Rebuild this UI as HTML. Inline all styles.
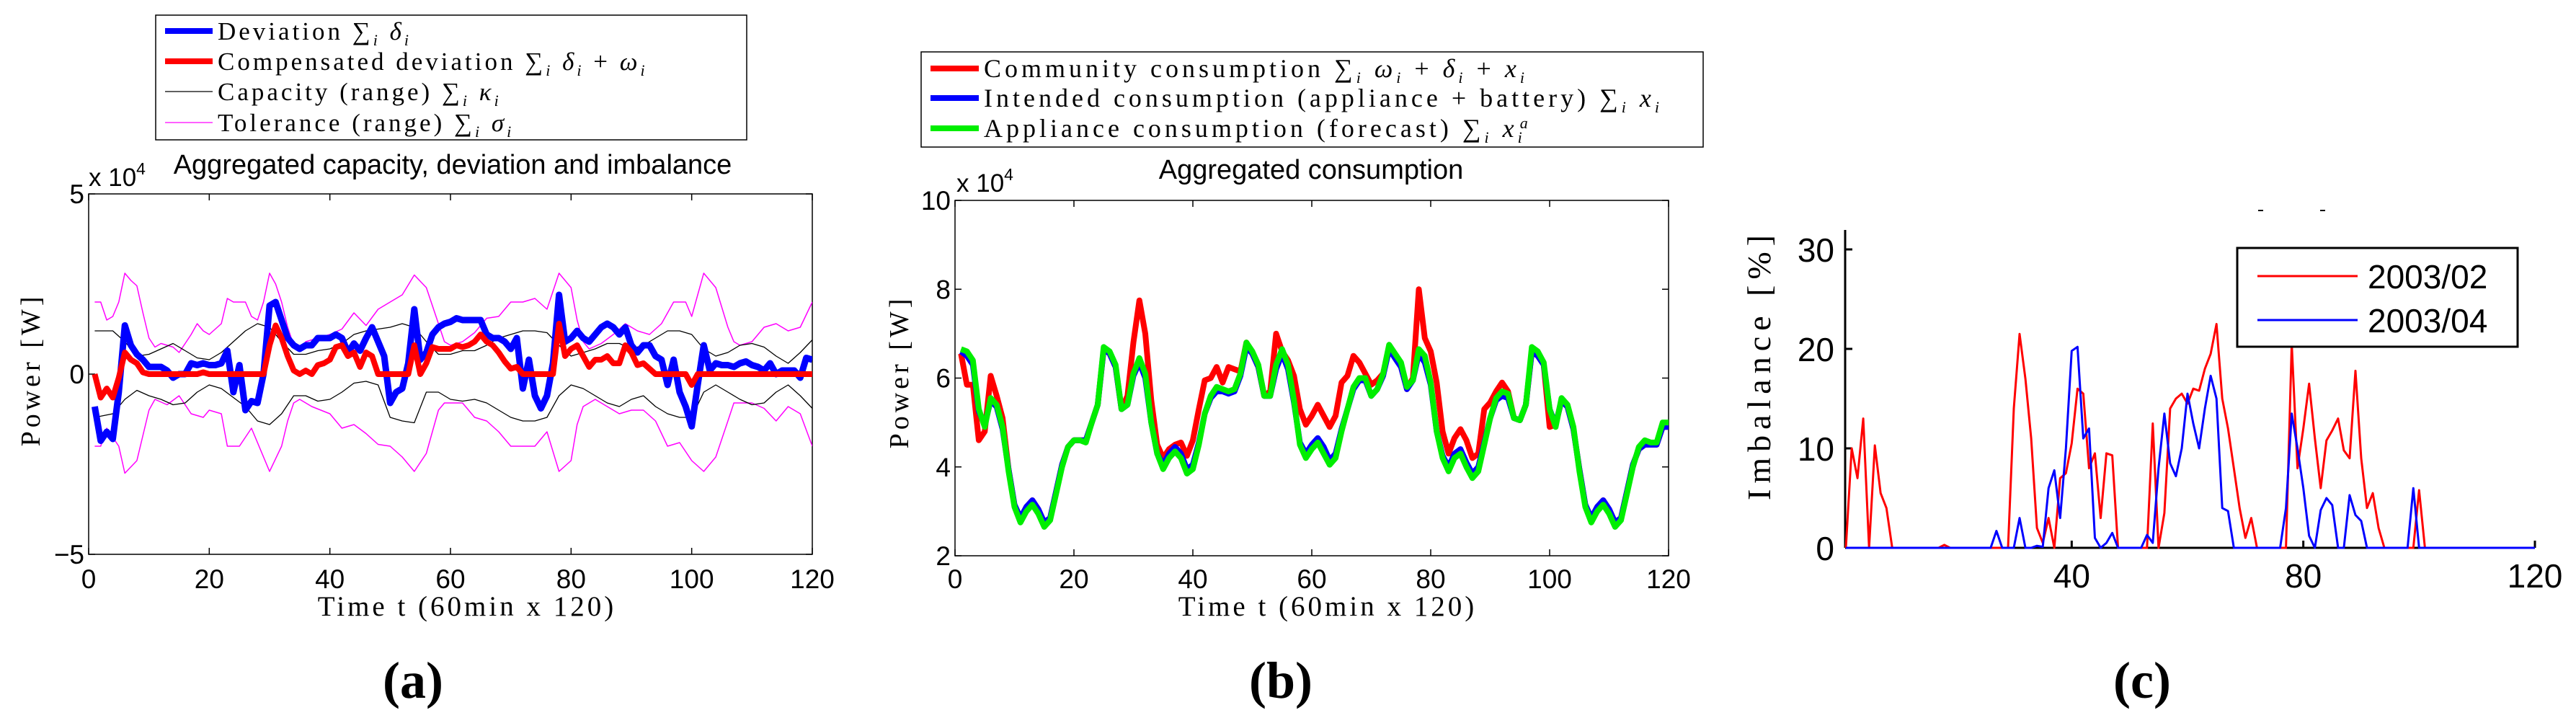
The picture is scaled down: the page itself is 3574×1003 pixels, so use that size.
<!DOCTYPE html>
<html><head><meta charset="utf-8"><style>
html,body{margin:0;padding:0;background:#fff}
svg{display:block}
.sans{font-family:"Liberation Sans",sans-serif}
.serif{font-family:"Liberation Serif",serif}
</style></head><body>
<svg id="fig" width="3574" height="1003" viewBox="0 0 3574 1003" xmlns="http://www.w3.org/2000/svg">
<g id="pa"></g>
<g id="pb"></g>
<g id="pc"></g>
</svg>
<script>
// ---------- Panel (a) data (units of 1e4 W) ----------
const aDevT=[1,2,3,4,5,6,7,8,9,10,11,12,13,14,15,16,17,18,19,20,21,22,23,24,25,26,27,28,29,30,31,32,33,34,35,36,37,38,39,40,41,42,43,44,45,46,47,48,49,50,51,52,53,54,55,56,57,58,59,60,61,62,63,64,65,66,67,68,69,70,71,72,73,74,75,76,77,78,79,80,81,82,83,84,85,86,87,88,89,90,91,92,93,94,95,96,97,98,99,100,101,102,103,104,105,106,107,108,109,110,111,112,113,114,115,116,117,118,119,120];
const aDeviation=[-0.9,-1.85,-1.6,-1.8,-0.5,1.35,0.8,0.55,0.4,0.2,0.2,0.2,0.1,-0.1,0.0,0.0,0.3,0.25,0.3,0.25,0.25,0.3,0.65,-0.5,0.25,-1.0,-0.75,-0.8,0.0,1.9,2.0,1.5,1.0,0.8,0.7,0.8,0.8,1.0,1.0,1.0,1.1,1.0,0.6,0.85,0.65,1.0,1.3,0.9,0.5,-0.8,-0.5,-0.4,0.3,1.8,0.4,0.6,1.1,1.3,1.4,1.45,1.55,1.5,1.5,1.5,1.5,1.1,1.0,1.0,0.9,0.7,1.0,-0.4,0.4,-0.6,-0.95,-0.6,0.3,2.2,0.9,1.0,1.2,1.0,0.9,1.1,1.3,1.4,1.3,1.1,1.3,0.8,0.6,0.8,0.8,0.5,0.4,-0.3,0.4,-0.5,-0.9,-1.45,-0.3,0.8,0.1,0.3,0.25,0.25,0.2,0.3,0.35,0.25,0.2,0.1,0.3,0.0,0.1,0.1,0.1,-0.1,0.45,0.4];
const aCompensated=[0,-0.65,-0.4,-0.65,-0.1,0.6,0.4,0.3,0.05,0,0,0,0,0,0,0,0,0,0.05,0,0,0,0,0,0,0,0,0,0,0.8,1.35,1.0,0.5,0.1,0.0,0.1,0.0,0.25,0.3,0.4,0.75,0.8,0.5,0.6,0.2,0.6,0.5,0,0,0,0,0,0,0.8,0.0,0.3,0.75,0.7,0.7,0.7,0.8,0.75,0.8,0.9,1.1,0.9,0.8,0.6,0.35,0.15,0.2,0,0,0,0,0,0,1.4,0.5,0.7,0.8,0.5,0.2,0.4,0.4,0.5,0.3,0.3,0.8,0.6,0.25,0.3,0.15,0,0,0,0,0,0,-0.3,0,0,0,0,0,0,0,0,0,0,0,0,0,0,0,0,0,0,0,0];
const aCapT=[1,4,6,8,10,12,14,16,18,20,22,24,26,28,30,32,34,36,38,40,42,44,46,48,50,52,54,56,58,60,62,64,66,68,70,72,74,76,78,80,82,84,86,88,90,92,94,96,98,100,102,104,106,108,110,112,114,116,118,120];
const aCapUpper=[1.2,1.2,0.9,0.5,0.55,0.7,0.85,0.65,0.45,0.4,0.6,0.9,1.2,1.4,1.3,0.9,0.55,0.55,0.65,0.7,0.85,1.1,1.2,1.25,1.3,1.4,1.3,0.9,0.55,0.55,0.65,0.65,0.8,1.0,1.1,1.2,1.2,1.15,0.8,0.5,0.6,0.7,0.85,0.85,0.7,0.8,1.0,1.2,1.2,1.1,0.7,0.5,0.6,0.8,0.85,0.75,0.5,0.3,0.6,0.95];
const aCapLower=[-1.2,-1.1,-0.7,-0.45,-0.6,-0.7,-0.85,-0.8,-0.5,-0.3,-0.4,-0.65,-0.9,-1.3,-1.4,-1.1,-0.6,-0.6,-0.75,-0.7,-0.5,-0.25,-0.2,-0.3,-1.2,-1.3,-1.35,-0.5,-0.5,-0.7,-0.75,-0.7,-0.8,-1.0,-1.2,-1.3,-1.3,-1.2,-0.6,-0.3,-0.4,-0.6,-0.8,-0.9,-0.7,-0.6,-0.9,-1.1,-1.2,-1.2,-0.5,-0.3,-0.5,-0.7,-0.85,-0.8,-0.5,-0.3,-0.6,-0.95];
const aTolUT=[1,2,3,4,5,6,7,8,9,10,11,12,13,14,15,16,17,18,19,20,22,23,24,25,26,27,28,29,30,31,32,33,34,35,36,38,40,42,44,46,48,50,52,54,56,58,59,60,62,64,66,68,70,72,74,76,78,80,81,82,83,85,87,89,91,93,95,97,99,100,101,102,104,106,107,108,110,112,114,116,118,120];
const aTolUpper=[2.0,2.0,1.5,1.6,2.0,2.8,2.6,2.45,1.7,1.0,0.75,0.85,0.8,0.75,0.6,0.85,1.1,1.4,1.2,1.1,1.4,2.1,2.0,2.0,2.0,1.6,1.5,2.0,2.8,2.5,2.0,1.3,0.8,0.7,0.9,1.0,1.1,1.25,1.7,1.35,1.8,2.0,2.2,2.75,2.4,1.4,0.9,0.8,0.9,1.15,1.55,1.6,2.0,2.0,2.1,1.8,2.8,2.4,1.5,0.9,0.7,0.85,1.1,1.4,1.2,1.1,1.4,2.0,2.0,1.6,2.2,2.8,2.4,1.3,0.9,0.8,0.9,1.3,1.4,1.2,1.3,2.0];
const aTolLT=[1,2,3,5,6,8,9,10,11,13,15,17,19,20,22,23,25,27,30,32,33,34,35,37,40,42,44,46,48,50,52,54,56,58,59,62,64,66,68,70,72,74,76,78,80,81,82,84,86,88,90,92,94,96,98,100,102,104,106,107,110,112,114,116,118,120];
const aTolLower=[-2.0,-2.0,-1.5,-2.0,-2.75,-2.4,-1.7,-1.0,-0.7,-0.85,-0.6,-1.1,-1.2,-1.0,-1.1,-2.0,-2.0,-1.5,-2.7,-2.0,-1.3,-0.8,-0.7,-0.9,-1.1,-1.5,-1.4,-1.65,-1.95,-2.0,-2.3,-2.7,-2.2,-1.0,-0.8,-0.8,-1.2,-1.3,-1.6,-2.0,-2.0,-2.0,-1.6,-2.7,-2.4,-1.4,-0.9,-0.7,-0.9,-1.1,-1.0,-1.0,-1.3,-2.0,-1.9,-2.4,-2.7,-2.3,-1.3,-0.8,-0.8,-0.95,-1.3,-0.9,-1.1,-2.0];
const aXTicks=[0,20,40,60,80,100,120];
const aYTicks=[-5,0,5];
const aYTickLabels=["\u22125","0","5"];

// ---------- Panel (b) data (units of 1e4 W) ----------
const bT=[1,2,3,4,5,6,7,8,9,10,11,12,13,14,15,16,17,18,19,20,21,22,23,24,25,26,27,28,29,30,31,32,33,34,35,36,37,38,39,40,41,42,43,44,45,46,47,48,49,50,51,52,53,54,55,56,57,58,59,60,61,62,63,64,65,66,67,68,69,70,71,72,73,74,75,76,77,78,79,80,81,82,83,84,85,86,87,88,89,90,91,92,93,94,95,96,97,98,99,100,101,102,103,104,105,106,107,108,109,110,111,112,113,114,115,116,117,118,119,120];
const bAppliance=[6.65,6.6,6.4,5.3,4.9,5.55,5.4,4.9,3.9,3.1,2.75,3.0,3.15,2.95,2.65,2.8,3.4,4.0,4.45,4.6,4.6,4.55,5.0,5.4,6.7,6.6,6.3,5.3,5.4,6.1,6.45,6.1,5.0,4.3,3.95,4.2,4.35,4.2,3.85,3.95,4.5,5.2,5.6,5.8,5.75,5.7,5.75,6.1,6.8,6.6,6.3,5.6,5.6,6.3,6.65,6.3,5.5,4.5,4.2,4.4,4.55,4.3,4.05,4.2,4.8,5.3,5.8,6.0,6.0,5.6,5.75,6.1,6.75,6.55,6.35,5.8,5.95,6.65,6.5,5.9,4.8,4.2,3.9,4.2,4.3,4.0,3.75,3.9,4.5,5.1,5.55,5.7,5.65,5.1,5.05,5.4,6.7,6.6,6.35,5.3,4.9,5.55,5.4,4.9,3.9,3.1,2.75,3.0,3.15,2.95,2.65,2.8,3.4,4.0,4.45,4.6,4.55,4.55,5.0,5.0];
const bIntended=[6.6,6.5,6.3,5.25,4.95,5.5,5.35,4.85,3.95,3.15,2.85,3.1,3.25,3.05,2.75,2.85,3.45,4.05,4.45,4.6,4.6,4.6,5.0,5.4,6.65,6.55,6.25,5.3,5.4,6.05,6.35,6.0,5.0,4.3,4.05,4.3,4.45,4.3,3.95,4.05,4.55,5.2,5.55,5.7,5.7,5.65,5.7,6.05,6.7,6.55,6.25,5.6,5.6,6.2,6.55,6.2,5.45,4.55,4.3,4.5,4.65,4.45,4.15,4.3,4.85,5.3,5.75,5.95,5.95,5.6,5.75,6.05,6.65,6.45,6.25,5.75,5.95,6.55,6.35,5.85,4.8,4.25,4.0,4.3,4.4,4.1,3.85,4.0,4.55,5.1,5.5,5.6,5.55,5.1,5.05,5.4,6.6,6.5,6.3,5.3,4.95,5.5,5.35,4.85,3.95,3.15,2.85,3.1,3.25,3.05,2.75,2.85,3.45,4.05,4.4,4.5,4.5,4.5,4.9,4.9];
const bCommunity=[6.55,5.85,5.85,4.6,4.8,6.05,5.6,5.1,3.95,3.15,2.85,3.1,3.25,3.05,2.75,2.85,3.45,4.05,4.45,4.6,4.6,4.6,5.0,5.4,6.65,6.55,6.25,5.3,5.6,6.8,7.75,7.0,5.5,4.5,4.2,4.4,4.5,4.55,4.25,4.6,5.3,5.95,6.0,6.25,5.9,6.25,6.2,6.15,6.8,6.55,6.25,5.6,5.7,7.0,6.6,6.4,6.05,5.3,4.95,5.15,5.4,5.15,4.9,5.15,5.9,6.05,6.5,6.35,6.1,5.85,5.95,6.1,6.7,6.45,6.25,5.75,6.0,8.0,6.9,6.6,5.9,4.8,4.3,4.65,4.85,4.6,4.2,4.3,5.3,5.45,5.7,5.9,5.7,5.1,5.05,5.4,6.6,6.5,6.3,4.9,4.95,5.5,5.35,4.85,3.95,3.15,2.85,3.1,3.25,3.05,2.75,2.85,3.45,4.05,4.4,4.5,4.5,4.5,4.9,4.9];
const bXTicks=[0,20,40,60,80,100,120];
const bYTicks=[2,4,6,8,10];

// ---------- Panel (c) data (%) ----------
const cT=[1,2,3,4,5,6,7,8,9,10,11,12,13,14,15,16,17,18,19,20,21,22,23,24,25,26,27,28,29,30,31,32,33,34,35,36,37,38,39,40,41,42,43,44,45,46,47,48,49,50,51,52,53,54,55,56,57,58,59,60,61,62,63,64,65,66,67,68,69,70,71,72,73,74,75,76,77,78,79,80,81,82,83,84,85,86,87,88,89,90,91,92,93,94,95,96,97,98,99,100,101,102,103,104,105,106,107,108,109,110,111,112,113,114,115,116,117,118,119,120];
const c200302=[0,10,7,13,0,10.3,5.5,4,0,0,0,0,0,0,0,0,0,0.3,0,0,0,0,0,0,0,0,0,0,0,14,21.5,17,11,2,0.5,3,0,7,7.5,10.5,16,15.5,8,9.5,3,9.5,9.3,0,0,0,0,0,0,12.5,0,3.5,14,15,15.5,14.5,16,15.8,18,19.5,22.5,15,12,8,4,1,3,0,0,0,0,0,0,20.5,8,12,16.5,11,6,10.8,11.8,13,9.8,9,17.8,9,4,5.5,2,0,0,0,0,0,0,5.8,0,0,0,0,0,0,0,0,0,0,0,0,0,0,0,0,0,0,0,0];
const c200304=[0,0,0,0,0,0,0,0,0,0,0,0,0,0,0,0,0,0,0,0,0,0,0,0,0,0,1.7,0,0,0,3,0,0,0.2,0.1,6,7.8,3,10,19.8,20.2,11,12,1,0,0.5,1.5,0,0,0,0,0,1.3,0.5,8,13.5,8.5,7.2,10,15.5,12.5,10,14,17.3,15,4,3.7,0,0,0,0,0,0,0,0,0,4,13.5,10,6,1.2,0,3.8,5,4.3,0,0,5.3,3.3,2.7,0,0,0,0,0,0,0,0,6,0,0,0,0,0,0,0,0,0,0,0,0,0,0,0,0,0,0,0,0,0];
const cXTicks=[40,80,120];
const cYTicks=[0,10,20,30];

const NS="http://www.w3.org/2000/svg";
function mk(parent,tag,attrs,txt){const e=document.createElementNS(NS,tag);for(const k in attrs)e.setAttribute(k,attrs[k]);if(txt!==undefined)e.textContent=txt;parent.appendChild(e);return e;}
function pathOf(ts,vs,sx,sy){return ts.map((t,i)=>(i?'L':'M')+sx(t).toFixed(1)+','+sy(vs[i]).toFixed(1)).join(' ');}
const SUB='<tspan font-size="22" dy="8">i</tspan>';

// ================= Panel A =================
(function(){
const g=document.getElementById('pa');
const L=123,R=1127,T=269,B=769;
const sx=t=>L+(t-0)/(120-0)*(R-L);
const sy=v=>B-(v+5)/10*(B-T);
let e;
e=mk(g,'rect',{x:L,y:T,width:R-L,height:B-T,fill:'none',stroke:'#000','stroke-width':1.5});

aXTicks.forEach(t=>{mk(g,'line',{x1:sx(t),x2:sx(t),y1:B,y2:B-9,stroke:'#000','stroke-width':1.5});mk(g,'line',{x1:sx(t),x2:sx(t),y1:T,y2:T+9,stroke:'#000','stroke-width':1.5});
 e=mk(g,'text',{x:sx(t),y:816,'text-anchor':'middle','font-size':37,class:'sans'},String(t));
 });
aYTicks.forEach((v,i)=>{mk(g,'line',{x1:L,x2:L+9,y1:sy(v),y2:sy(v),stroke:'#000','stroke-width':1.5});mk(g,'line',{x1:R,x2:R-9,y1:sy(v),y2:sy(v),stroke:'#000','stroke-width':1.5});
 e=mk(g,'text',{x:L-6,y:sy(v)+13,'text-anchor':'end','font-size':37,class:'sans'},aYTickLabels[i]);
 });
const clip=mk(g,'clipPath',{id:'clipA'});mk(clip,'rect',{x:L,y:T,width:R-L,height:B-T});
const series=[[aTolUT,aTolUpper,'#ff00ff',1.5,'tolerance-upper-line'],[aTolLT,aTolLower,'#ff00ff',1.5,'tolerance-lower-line'],[aCapT,aCapUpper,'#000',1.3,'capacity-upper-line'],[aCapT,aCapLower,'#000',1.3,'capacity-lower-line'],[aDevT,aDeviation,'#0000ff',9,'deviation-line'],[aDevT,aCompensated,'#ff0000',8,'compensated-deviation-line']];
series.forEach(s=>{e=mk(g,'path',{d:pathOf(s[0],s[1],sx,sy),fill:'none',stroke:s[2],'stroke-width':s[3],'stroke-linejoin':'round','clip-path':'url(#clipA)'});
 });
e=mk(g,'text',{x:123,y:258,'font-size':35,class:'sans'});e.innerHTML='x 10<tspan dy="-16" font-size="23">4</tspan>';

e=mk(g,'text',{x:628,y:241,'text-anchor':'middle','font-size':38,class:'sans'},'Aggregated capacity, deviation and imbalance');

e=mk(g,'text',{x:648,y:854,'text-anchor':'middle','font-size':39,class:'serif','letter-spacing':4},'Time t (60min x 120)');

e=mk(g,'text',{x:0,y:0,transform:'translate(55,513) rotate(-90)','text-anchor':'middle','font-size':38,class:'serif','letter-spacing':5},'Power [W]');

e=mk(g,'text',{x:573,y:968,'text-anchor':'middle','font-size':72,'font-weight':'bold',class:'serif'},'(a)');

const lg=mk(g,'g',{});
mk(lg,'rect',{x:216,y:21,width:820,height:173,fill:'#fff',stroke:'#000','stroke-width':1.5});
const ents=[['#0000ff',8,'Deviation <tspan font-style="italic">∑'+SUB+'<tspan dy="-8"> δ</tspan>'+SUB+'</tspan>'],
['#ff0000',8,'Compensated deviation <tspan font-style="italic">∑'+SUB+'<tspan dy="-8"> δ</tspan>'+SUB+'<tspan dy="-8" font-style="normal"> + </tspan>ω'+SUB+'</tspan>'],
['#000',1.3,'Capacity (range) <tspan font-style="italic">∑'+SUB+'<tspan dy="-8"> κ</tspan>'+SUB+'</tspan>'],
['#ff00ff',1.3,'Tolerance (range) <tspan font-style="italic">∑'+SUB+'<tspan dy="-8"> σ</tspan>'+SUB+'</tspan>']];
const ly=[43,85,127,170];
ents.forEach((en,i)=>{const eg=mk(lg,'g',{});
 mk(eg,'line',{x1:229,x2:295,y1:ly[i],y2:ly[i],stroke:en[0],'stroke-width':en[1]});
 const t=mk(eg,'text',{x:302,y:ly[i]+12,'font-size':35,class:'serif','letter-spacing':4});t.innerHTML=en[2];});
})();

// ================= Panel B =================
(function(){
const g=document.getElementById('pb');
const L=1325,R=2315,T=278,B=771;
const sx=t=>L+t/120*(R-L);
const sy=v=>B-(v-2)/8*(B-T);
let e;
e=mk(g,'rect',{x:L,y:T,width:R-L,height:B-T,fill:'none',stroke:'#000','stroke-width':1.5});

bXTicks.forEach(t=>{mk(g,'line',{x1:sx(t),x2:sx(t),y1:B,y2:B-9,stroke:'#000','stroke-width':1.5});mk(g,'line',{x1:sx(t),x2:sx(t),y1:T,y2:T+9,stroke:'#000','stroke-width':1.5});
 e=mk(g,'text',{x:sx(t),y:816,'text-anchor':'middle','font-size':37,class:'sans'},String(t));
 });
bYTicks.forEach(v=>{mk(g,'line',{x1:L,x2:L+9,y1:sy(v),y2:sy(v),stroke:'#000','stroke-width':1.5});mk(g,'line',{x1:R,x2:R-9,y1:sy(v),y2:sy(v),stroke:'#000','stroke-width':1.5});
 e=mk(g,'text',{x:L-6,y:sy(v)+13,'text-anchor':'end','font-size':37,class:'sans'},String(v));
 });
const clip=mk(g,'clipPath',{id:'clipB'});mk(clip,'rect',{x:L,y:T,width:R-L,height:B-T});
[[bCommunity,'#ff0000','community-consumption-line'],[bIntended,'#0000ff','intended-consumption-line'],[bAppliance,'#00ee00','appliance-consumption-line']].forEach(s=>{
 e=mk(g,'path',{d:pathOf(bT,s[0],sx,sy),fill:'none',stroke:s[1],'stroke-width':8,'stroke-linejoin':'round','clip-path':'url(#clipB)'});
 });
e=mk(g,'text',{x:1327,y:266,'font-size':35,class:'sans'});e.innerHTML='x 10<tspan dy="-16" font-size="23">4</tspan>';

e=mk(g,'text',{x:1819,y:248,'text-anchor':'middle','font-size':38,class:'sans'},'Aggregated consumption');

e=mk(g,'text',{x:1842,y:854,'text-anchor':'middle','font-size':39,class:'serif','letter-spacing':4},'Time t (60min x 120)');

e=mk(g,'text',{x:0,y:0,transform:'translate(1260,516) rotate(-90)','text-anchor':'middle','font-size':38,class:'serif','letter-spacing':5},'Power [W]');

e=mk(g,'text',{x:1777,y:968,'text-anchor':'middle','font-size':72,'font-weight':'bold',class:'serif'},'(b)');

const lg=mk(g,'g',{});
mk(lg,'rect',{x:1278,y:72,width:1085,height:132,fill:'#fff',stroke:'#000','stroke-width':1.5});
const ents=[['#ff0000','Community consumption <tspan font-style="italic">∑'+SUB+'<tspan dy="-8"> ω</tspan>'+SUB+'<tspan dy="-8" font-style="normal"> + </tspan>δ'+SUB+'<tspan dy="-8" font-style="normal"> + </tspan>x'+SUB+'</tspan>'],
['#0000ff','Intended consumption (appliance + battery) <tspan font-style="italic">∑'+SUB+'<tspan dy="-8"> x</tspan>'+SUB+'</tspan>'],
['#00ee00','Appliance consumption (forecast) <tspan font-style="italic">∑'+SUB+'<tspan dy="-8"> x</tspan>'+SUB+'<tspan font-size="22" dy="-20" dx="-8">a</tspan></tspan>']];
const ly=[95,136,178];
ents.forEach((en,i)=>{const eg=mk(lg,'g',{});
 mk(eg,'line',{x1:1291,x2:1358,y1:ly[i],y2:ly[i],stroke:en[0],'stroke-width':8});
 const t=mk(eg,'text',{x:1365,y:ly[i]+12,'font-size':36,class:'serif','letter-spacing':5});t.innerHTML=en[1];});
})();

// ================= Panel C =================
(function(){
const g=document.getElementById('pc');
const L=2560,R=3517,B=760,T=319;
const sx=t=>2553+t/120*(R-2553);
const sy=v=>B-v/10*138;
let e;
e=mk(g,'line',{x1:L,x2:L,y1:T,y2:B,stroke:'#000','stroke-width':3});

e=mk(g,'line',{x1:L,x2:R,y1:B,y2:B,stroke:'#000','stroke-width':3});

cXTicks.forEach(t=>{mk(g,'line',{x1:sx(t),x2:sx(t),y1:B,y2:B-10,stroke:'#000','stroke-width':3});
 e=mk(g,'text',{x:sx(t),y:815,'text-anchor':'middle','font-size':46,class:'sans'},String(t));
 });
cYTicks.forEach(v=>{mk(g,'line',{x1:L,x2:L+10,y1:sy(v),y2:sy(v),stroke:'#000','stroke-width':3});
 e=mk(g,'text',{x:2545,y:sy(v)+17,'text-anchor':'end','font-size':46,class:'sans'},String(v));
 });
[[c200302,'#ff0000','imbalance-2003-02-line'],[c200304,'#0000ff','imbalance-2003-04-line']].forEach(s=>{
 e=mk(g,'path',{d:pathOf(cT,s[0],sx,sy),fill:'none',stroke:s[1],'stroke-width':3,'stroke-linejoin':'round'});
 });
mk(g,'line',{x1:3133,x2:3140,y1:292,y2:292,stroke:'#000','stroke-width':2});
mk(g,'line',{x1:3219,x2:3226,y1:292,y2:292,stroke:'#000','stroke-width':2});
e=mk(g,'text',{x:0,y:0,transform:'translate(2456,506) rotate(-90)','text-anchor':'middle','font-size':46,class:'serif','letter-spacing':8},'Imbalance [%]');

e=mk(g,'text',{x:2972,y:968,'text-anchor':'middle','font-size':72,'font-weight':'bold',class:'serif'},'(c)');

const lg=mk(g,'g',{});
mk(lg,'rect',{x:3104,y:344,width:389,height:137,fill:'#fff',stroke:'#000','stroke-width':3});
[['#ff0000','2003/02',383],['#0000ff','2003/04',444]].forEach(en=>{const eg=mk(lg,'g',{});
 mk(eg,'line',{x1:3132,x2:3271,y1:en[2],y2:en[2],stroke:en[0],'stroke-width':3});
 mk(eg,'text',{x:3285,y:en[2]+17,'font-size':46,class:'sans'},en[1]);});
})();
</script>
</body></html>
